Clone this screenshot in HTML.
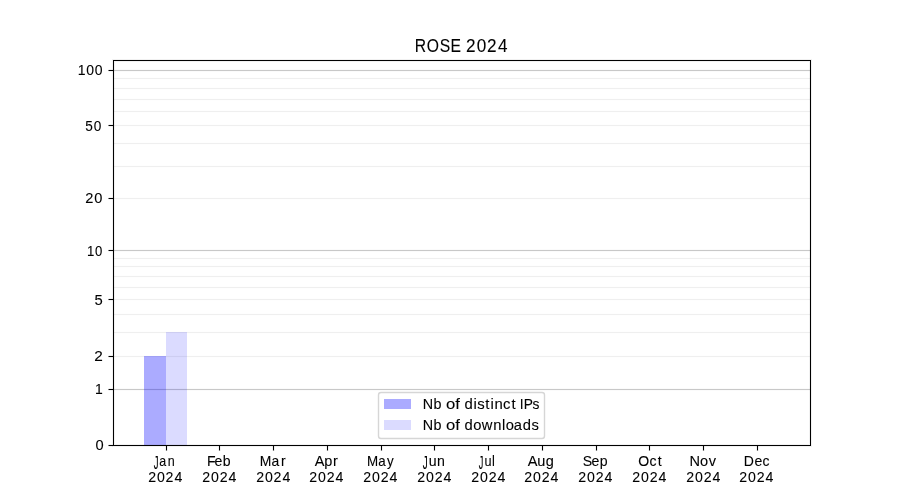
<!DOCTYPE html>
<html><head><meta charset="utf-8"><title>ROSE 2024</title>
<style>html,body{margin:0;padding:0;background:#fff;width:900px;height:500px;overflow:hidden;font-family:"Liberation Sans",sans-serif}svg{display:block}
.t{will-change:transform}</style>
</head><body>
<svg width="900" height="500" viewBox="0 0 900 500">
<rect x="0" y="0" width="900" height="500" fill="#ffffff"/>
<g shape-rendering="crispEdges">
<rect x="114" y="78" width="696" height="1" fill="#b0b0b0" fill-opacity="0.2"/>
<rect x="114" y="77" width="696" height="1" fill="#b0b0b0" fill-opacity="0.013"/>
<rect x="114" y="79" width="696" height="1" fill="#b0b0b0" fill-opacity="0.013"/>
<rect x="114" y="88" width="696" height="1" fill="#b0b0b0" fill-opacity="0.2"/>
<rect x="114" y="87" width="696" height="1" fill="#b0b0b0" fill-opacity="0.013"/>
<rect x="114" y="89" width="696" height="1" fill="#b0b0b0" fill-opacity="0.013"/>
<rect x="114" y="99" width="696" height="1" fill="#b0b0b0" fill-opacity="0.2"/>
<rect x="114" y="98" width="696" height="1" fill="#b0b0b0" fill-opacity="0.013"/>
<rect x="114" y="100" width="696" height="1" fill="#b0b0b0" fill-opacity="0.013"/>
<rect x="114" y="111" width="696" height="1" fill="#b0b0b0" fill-opacity="0.2"/>
<rect x="114" y="110" width="696" height="1" fill="#b0b0b0" fill-opacity="0.013"/>
<rect x="114" y="112" width="696" height="1" fill="#b0b0b0" fill-opacity="0.013"/>
<rect x="114" y="125" width="696" height="1" fill="#b0b0b0" fill-opacity="0.2"/>
<rect x="114" y="124" width="696" height="1" fill="#b0b0b0" fill-opacity="0.013"/>
<rect x="114" y="126" width="696" height="1" fill="#b0b0b0" fill-opacity="0.013"/>
<rect x="114" y="143" width="696" height="1" fill="#b0b0b0" fill-opacity="0.2"/>
<rect x="114" y="142" width="696" height="1" fill="#b0b0b0" fill-opacity="0.013"/>
<rect x="114" y="144" width="696" height="1" fill="#b0b0b0" fill-opacity="0.013"/>
<rect x="114" y="166" width="696" height="1" fill="#b0b0b0" fill-opacity="0.2"/>
<rect x="114" y="165" width="696" height="1" fill="#b0b0b0" fill-opacity="0.013"/>
<rect x="114" y="167" width="696" height="1" fill="#b0b0b0" fill-opacity="0.013"/>
<rect x="114" y="198" width="696" height="1" fill="#b0b0b0" fill-opacity="0.2"/>
<rect x="114" y="197" width="696" height="1" fill="#b0b0b0" fill-opacity="0.013"/>
<rect x="114" y="199" width="696" height="1" fill="#b0b0b0" fill-opacity="0.013"/>
<rect x="114" y="258" width="696" height="1" fill="#b0b0b0" fill-opacity="0.2"/>
<rect x="114" y="257" width="696" height="1" fill="#b0b0b0" fill-opacity="0.013"/>
<rect x="114" y="259" width="696" height="1" fill="#b0b0b0" fill-opacity="0.013"/>
<rect x="114" y="266" width="696" height="1" fill="#b0b0b0" fill-opacity="0.2"/>
<rect x="114" y="265" width="696" height="1" fill="#b0b0b0" fill-opacity="0.013"/>
<rect x="114" y="267" width="696" height="1" fill="#b0b0b0" fill-opacity="0.013"/>
<rect x="114" y="276" width="696" height="1" fill="#b0b0b0" fill-opacity="0.2"/>
<rect x="114" y="275" width="696" height="1" fill="#b0b0b0" fill-opacity="0.013"/>
<rect x="114" y="277" width="696" height="1" fill="#b0b0b0" fill-opacity="0.013"/>
<rect x="114" y="287" width="696" height="1" fill="#b0b0b0" fill-opacity="0.2"/>
<rect x="114" y="286" width="696" height="1" fill="#b0b0b0" fill-opacity="0.013"/>
<rect x="114" y="288" width="696" height="1" fill="#b0b0b0" fill-opacity="0.013"/>
<rect x="114" y="299" width="696" height="1" fill="#b0b0b0" fill-opacity="0.2"/>
<rect x="114" y="298" width="696" height="1" fill="#b0b0b0" fill-opacity="0.013"/>
<rect x="114" y="300" width="696" height="1" fill="#b0b0b0" fill-opacity="0.013"/>
<rect x="114" y="314" width="696" height="1" fill="#b0b0b0" fill-opacity="0.2"/>
<rect x="114" y="313" width="696" height="1" fill="#b0b0b0" fill-opacity="0.013"/>
<rect x="114" y="315" width="696" height="1" fill="#b0b0b0" fill-opacity="0.013"/>
<rect x="114" y="332" width="696" height="1" fill="#b0b0b0" fill-opacity="0.2"/>
<rect x="114" y="331" width="696" height="1" fill="#b0b0b0" fill-opacity="0.013"/>
<rect x="114" y="333" width="696" height="1" fill="#b0b0b0" fill-opacity="0.013"/>
<rect x="114" y="356" width="696" height="1" fill="#b0b0b0" fill-opacity="0.2"/>
<rect x="114" y="355" width="696" height="1" fill="#b0b0b0" fill-opacity="0.013"/>
<rect x="114" y="357" width="696" height="1" fill="#b0b0b0" fill-opacity="0.013"/>
<rect x="114" y="70" width="696" height="1" fill="#b0b0b0" fill-opacity="0.7"/>
<rect x="114" y="69" width="696" height="1" fill="#b0b0b0" fill-opacity="0.05"/>
<rect x="114" y="71" width="696" height="1" fill="#b0b0b0" fill-opacity="0.05"/>
<rect x="114" y="250" width="696" height="1" fill="#b0b0b0" fill-opacity="0.7"/>
<rect x="114" y="249" width="696" height="1" fill="#b0b0b0" fill-opacity="0.05"/>
<rect x="114" y="251" width="696" height="1" fill="#b0b0b0" fill-opacity="0.05"/>
<rect x="114" y="389" width="696" height="1" fill="#b0b0b0" fill-opacity="0.7"/>
<rect x="114" y="388" width="696" height="1" fill="#b0b0b0" fill-opacity="0.05"/>
<rect x="114" y="390" width="696" height="1" fill="#b0b0b0" fill-opacity="0.05"/>
<rect x="144" y="356" width="22" height="89" fill="#0000ff" fill-opacity="0.33"/>
<rect x="166" y="332" width="21" height="113" fill="#0000ff" fill-opacity="0.14"/>
<rect x="113" y="60" width="698" height="1" fill="#000"/>
<rect x="113" y="445" width="698" height="1" fill="#000"/>
<rect x="113" y="60" width="1" height="386" fill="#000"/>
<rect x="810" y="60" width="1" height="386" fill="#000"/>
<rect x="112" y="59" width="700" height="1" fill="#000" fill-opacity="0.055"/>
<rect x="114" y="61" width="696" height="1" fill="#000" fill-opacity="0.055"/>
<rect x="114" y="444" width="696" height="1" fill="#000" fill-opacity="0.055"/>
<rect x="112" y="446" width="700" height="1" fill="#000" fill-opacity="0.055"/>
<rect x="112" y="60" width="1" height="386" fill="#000" fill-opacity="0.055"/>
<rect x="114" y="62" width="1" height="382" fill="#000" fill-opacity="0.055"/>
<rect x="809" y="62" width="1" height="382" fill="#000" fill-opacity="0.055"/>
<rect x="811" y="60" width="1" height="386" fill="#000" fill-opacity="0.055"/>
<rect x="108" y="70" width="1" height="1" fill="#000" fill-opacity="0.5"/>
<rect x="109" y="70" width="4" height="1" fill="#000"/>
<rect x="108" y="69" width="1" height="1" fill="#000" fill-opacity="0.027"/>
<rect x="108" y="71" width="1" height="1" fill="#000" fill-opacity="0.027"/>
<rect x="109" y="69" width="4" height="1" fill="#000" fill-opacity="0.055"/>
<rect x="109" y="71" width="4" height="1" fill="#000" fill-opacity="0.055"/>
<rect x="108" y="125" width="1" height="1" fill="#000" fill-opacity="0.5"/>
<rect x="109" y="125" width="4" height="1" fill="#000"/>
<rect x="108" y="124" width="1" height="1" fill="#000" fill-opacity="0.027"/>
<rect x="108" y="126" width="1" height="1" fill="#000" fill-opacity="0.027"/>
<rect x="109" y="124" width="4" height="1" fill="#000" fill-opacity="0.055"/>
<rect x="109" y="126" width="4" height="1" fill="#000" fill-opacity="0.055"/>
<rect x="108" y="198" width="1" height="1" fill="#000" fill-opacity="0.5"/>
<rect x="109" y="198" width="4" height="1" fill="#000"/>
<rect x="108" y="197" width="1" height="1" fill="#000" fill-opacity="0.027"/>
<rect x="108" y="199" width="1" height="1" fill="#000" fill-opacity="0.027"/>
<rect x="109" y="197" width="4" height="1" fill="#000" fill-opacity="0.055"/>
<rect x="109" y="199" width="4" height="1" fill="#000" fill-opacity="0.055"/>
<rect x="108" y="250" width="1" height="1" fill="#000" fill-opacity="0.5"/>
<rect x="109" y="250" width="4" height="1" fill="#000"/>
<rect x="108" y="249" width="1" height="1" fill="#000" fill-opacity="0.027"/>
<rect x="108" y="251" width="1" height="1" fill="#000" fill-opacity="0.027"/>
<rect x="109" y="249" width="4" height="1" fill="#000" fill-opacity="0.055"/>
<rect x="109" y="251" width="4" height="1" fill="#000" fill-opacity="0.055"/>
<rect x="108" y="299" width="1" height="1" fill="#000" fill-opacity="0.5"/>
<rect x="109" y="299" width="4" height="1" fill="#000"/>
<rect x="108" y="298" width="1" height="1" fill="#000" fill-opacity="0.027"/>
<rect x="108" y="300" width="1" height="1" fill="#000" fill-opacity="0.027"/>
<rect x="109" y="298" width="4" height="1" fill="#000" fill-opacity="0.055"/>
<rect x="109" y="300" width="4" height="1" fill="#000" fill-opacity="0.055"/>
<rect x="108" y="356" width="1" height="1" fill="#000" fill-opacity="0.5"/>
<rect x="109" y="356" width="4" height="1" fill="#000"/>
<rect x="108" y="355" width="1" height="1" fill="#000" fill-opacity="0.027"/>
<rect x="108" y="357" width="1" height="1" fill="#000" fill-opacity="0.027"/>
<rect x="109" y="355" width="4" height="1" fill="#000" fill-opacity="0.055"/>
<rect x="109" y="357" width="4" height="1" fill="#000" fill-opacity="0.055"/>
<rect x="108" y="389" width="1" height="1" fill="#000" fill-opacity="0.5"/>
<rect x="109" y="389" width="4" height="1" fill="#000"/>
<rect x="108" y="388" width="1" height="1" fill="#000" fill-opacity="0.027"/>
<rect x="108" y="390" width="1" height="1" fill="#000" fill-opacity="0.027"/>
<rect x="109" y="388" width="4" height="1" fill="#000" fill-opacity="0.055"/>
<rect x="109" y="390" width="4" height="1" fill="#000" fill-opacity="0.055"/>
<rect x="108" y="445" width="1" height="1" fill="#000" fill-opacity="0.5"/>
<rect x="109" y="445" width="4" height="1" fill="#000"/>
<rect x="108" y="444" width="1" height="1" fill="#000" fill-opacity="0.027"/>
<rect x="108" y="446" width="1" height="1" fill="#000" fill-opacity="0.027"/>
<rect x="109" y="444" width="4" height="1" fill="#000" fill-opacity="0.055"/>
<rect x="109" y="446" width="4" height="1" fill="#000" fill-opacity="0.055"/>
<rect x="166" y="450" width="1" height="1" fill="#000" fill-opacity="0.5"/>
<rect x="166" y="446" width="1" height="4" fill="#000"/>
<rect x="165" y="446" width="1" height="5" fill="#000" fill-opacity="0.055"/>
<rect x="167" y="446" width="1" height="5" fill="#000" fill-opacity="0.055"/>
<rect x="219" y="450" width="1" height="1" fill="#000" fill-opacity="0.5"/>
<rect x="219" y="446" width="1" height="4" fill="#000"/>
<rect x="218" y="446" width="1" height="5" fill="#000" fill-opacity="0.055"/>
<rect x="220" y="446" width="1" height="5" fill="#000" fill-opacity="0.055"/>
<rect x="273" y="450" width="1" height="1" fill="#000" fill-opacity="0.5"/>
<rect x="273" y="446" width="1" height="4" fill="#000"/>
<rect x="272" y="446" width="1" height="5" fill="#000" fill-opacity="0.055"/>
<rect x="274" y="446" width="1" height="5" fill="#000" fill-opacity="0.055"/>
<rect x="327" y="450" width="1" height="1" fill="#000" fill-opacity="0.5"/>
<rect x="327" y="446" width="1" height="4" fill="#000"/>
<rect x="326" y="446" width="1" height="5" fill="#000" fill-opacity="0.055"/>
<rect x="328" y="446" width="1" height="5" fill="#000" fill-opacity="0.055"/>
<rect x="381" y="450" width="1" height="1" fill="#000" fill-opacity="0.5"/>
<rect x="381" y="446" width="1" height="4" fill="#000"/>
<rect x="380" y="446" width="1" height="5" fill="#000" fill-opacity="0.055"/>
<rect x="382" y="446" width="1" height="5" fill="#000" fill-opacity="0.055"/>
<rect x="434" y="450" width="1" height="1" fill="#000" fill-opacity="0.5"/>
<rect x="434" y="446" width="1" height="4" fill="#000"/>
<rect x="433" y="446" width="1" height="5" fill="#000" fill-opacity="0.055"/>
<rect x="435" y="446" width="1" height="5" fill="#000" fill-opacity="0.055"/>
<rect x="488" y="450" width="1" height="1" fill="#000" fill-opacity="0.5"/>
<rect x="488" y="446" width="1" height="4" fill="#000"/>
<rect x="487" y="446" width="1" height="5" fill="#000" fill-opacity="0.055"/>
<rect x="489" y="446" width="1" height="5" fill="#000" fill-opacity="0.055"/>
<rect x="542" y="450" width="1" height="1" fill="#000" fill-opacity="0.5"/>
<rect x="542" y="446" width="1" height="4" fill="#000"/>
<rect x="541" y="446" width="1" height="5" fill="#000" fill-opacity="0.055"/>
<rect x="543" y="446" width="1" height="5" fill="#000" fill-opacity="0.055"/>
<rect x="596" y="450" width="1" height="1" fill="#000" fill-opacity="0.5"/>
<rect x="596" y="446" width="1" height="4" fill="#000"/>
<rect x="595" y="446" width="1" height="5" fill="#000" fill-opacity="0.055"/>
<rect x="597" y="446" width="1" height="5" fill="#000" fill-opacity="0.055"/>
<rect x="649" y="450" width="1" height="1" fill="#000" fill-opacity="0.5"/>
<rect x="649" y="446" width="1" height="4" fill="#000"/>
<rect x="648" y="446" width="1" height="5" fill="#000" fill-opacity="0.055"/>
<rect x="650" y="446" width="1" height="5" fill="#000" fill-opacity="0.055"/>
<rect x="703" y="450" width="1" height="1" fill="#000" fill-opacity="0.5"/>
<rect x="703" y="446" width="1" height="4" fill="#000"/>
<rect x="702" y="446" width="1" height="5" fill="#000" fill-opacity="0.055"/>
<rect x="704" y="446" width="1" height="5" fill="#000" fill-opacity="0.055"/>
<rect x="757" y="450" width="1" height="1" fill="#000" fill-opacity="0.5"/>
<rect x="757" y="446" width="1" height="4" fill="#000"/>
<rect x="756" y="446" width="1" height="5" fill="#000" fill-opacity="0.055"/>
<rect x="758" y="446" width="1" height="5" fill="#000" fill-opacity="0.055"/>
</g>
<rect x="378.5" y="392.5" width="166" height="46" rx="2.5" ry="2.5" fill="#fff" fill-opacity="0.8" stroke="#ccc" stroke-opacity="0.8" stroke-width="1.39"/>
<g shape-rendering="crispEdges">
<rect x="384" y="399" width="27" height="10" fill="rgb(171,171,255)"/>
<rect x="384" y="420" width="27" height="10" fill="rgb(219,219,255)"/>
</g>
<g class="t" fill="#000" stroke="#000" stroke-width="0.1" stroke-linejoin="round" font-family="'Liberation Sans', sans-serif">
<text transform="translate(0 52.000) scale(0.8926 1)" x="464.79 478.07 492.71 504.66" font-size="17.6">ROSE</text>
<text transform="translate(0 52.000) scale(0.9726 1)" x="479.19 490.25 500.85 511.92" font-size="17.6">2024</text>
<text transform="translate(0 450.000) scale(1.0467 1)" x="91.17" font-size="14">0</text>
<text transform="translate(0 394.000) scale(0.9948 1)" x="95.44" font-size="14">1</text>
<text transform="translate(0 361.000) scale(1.0980 1)" x="85.81" font-size="14">2</text>
<text transform="translate(0 305.000) scale(1.0566 1)" x="89.36" font-size="14">5</text>
<text transform="translate(0 256.000) scale(0.9401 1)" x="92.47 101.18" font-size="14">10</text>
<text transform="translate(0 203.000) scale(1.0453 1)" x="81.51 90.29" font-size="14">20</text>
<text transform="translate(0 131.000) scale(0.9726 1)" x="87.78 96.51" font-size="14">50</text>
<text transform="translate(0 75.000) scale(0.9996 1)" x="77.83 86.35 94.81" font-size="14">100</text>
<text transform="translate(0 469.007) scale(0.6827 1.3)" x="225.16" font-size="14">J</text>
<text transform="translate(0 466.000) scale(0.8927 1)" x="178.41 187.78" font-size="14">an</text>
<text transform="translate(0 482.000) scale(1.0106 1)" x="146.68 155.45 163.89 172.67" font-size="14">2024</text>
<text transform="translate(0 466.000) scale(1.0048 1)" x="206.11 213.56 221.70" font-size="14">Feb</text>
<text transform="translate(0 482.000) scale(1.0106 1)" x="200.11 208.89 217.33 226.11" font-size="14">2024</text>
<text transform="translate(0 466.000) scale(0.9962 1)" x="260.85 272.62 282.17" font-size="14">Mar</text>
<text transform="translate(0 482.000) scale(1.0106 1)" x="253.55 262.32 270.76 279.54" font-size="14">2024</text>
<text transform="translate(0 466.000) scale(1.0374 1)" x="303.30 312.64 321.09" font-size="14">Apr</text>
<text transform="translate(0 482.000) scale(1.0106 1)" x="305.99 314.77 323.21 331.99" font-size="14">2024</text>
<text transform="translate(0 466.000) scale(0.9554 1)" x="384.04 395.81 405.16" font-size="14">May</text>
<text transform="translate(0 482.000) scale(1.0106 1)" x="359.43 368.20 376.64 385.42" font-size="14">2024</text>
<text transform="translate(0 469.007) scale(0.7086 1.3)" x="596.55" font-size="14">J</text>
<text transform="translate(0 466.000) scale(1.0103 1)" x="424.32 432.61" font-size="14">un</text>
<text transform="translate(0 482.000) scale(1.0106 1)" x="412.86 421.64 430.08 438.86" font-size="14">2024</text>
<text transform="translate(0 469.007) scale(0.6530 1.3)" x="733.07" font-size="14">J</text>
<text transform="translate(0 466.000) scale(0.9069 1)" x="534.12 542.57" font-size="14">ul</text>
<text transform="translate(0 482.000) scale(1.0106 1)" x="466.30 475.07 483.51 492.29" font-size="14">2024</text>
<text transform="translate(0 466.000) scale(1.0384 1)" x="508.16 517.45 525.65" font-size="14">Aug</text>
<text transform="translate(0 482.000) scale(1.0106 1)" x="518.74 527.52 535.96 544.74" font-size="14">2024</text>
<text transform="translate(0 466.000) scale(1.0071 1)" x="578.54 587.37 595.51" font-size="14">Sep</text>
<text transform="translate(0 482.000) scale(1.0106 1)" x="572.18 580.95 589.39 598.17" font-size="14">2024</text>
<text transform="translate(0 466.000) scale(1.0043 1)" x="635.55 646.66 654.91" font-size="14">Oct</text>
<text transform="translate(0 482.000) scale(1.0106 1)" x="625.61 634.39 642.82 651.61" font-size="14">2024</text>
<text transform="translate(0 466.000) scale(1.0399 1)" x="663.05 673.18 681.50" font-size="14">Nov</text>
<text transform="translate(0 482.000) scale(1.0106 1)" x="679.05 687.82 696.26 705.04" font-size="14">2024</text>
<text transform="translate(0 466.000) scale(1.0003 1)" x="743.64 754.16 762.24" font-size="14">Dec</text>
<text transform="translate(0 482.000) scale(1.0106 1)" x="731.49 740.27 748.70 757.49" font-size="14">2024</text>
<text transform="translate(0 409.000) scale(1.0254 1)" x="412.18 422.75" font-size="14">Nb</text>
<text transform="translate(0 409.000) scale(1.1904 1)" x="374.59 382.35" font-size="14">of</text>
<text transform="translate(0 409.000) scale(1.0636 1)" x="436.71 445.20 448.68 456.20 461.08 464.85 472.95 480.91" font-size="14">distinct</text>
<text transform="translate(0 409.000) scale(0.9843 1)" x="528.11 532.20 541.12" font-size="14">IPs</text>
<text transform="translate(0 430.000) scale(1.0254 1)" x="412.18 422.75" font-size="14">Nb</text>
<text transform="translate(0 430.000) scale(1.1904 1)" x="374.59 382.35" font-size="14">of</text>
<text transform="translate(0 430.000) scale(1.0538 1)" x="440.74 449.04 457.28 468.06 476.37 479.92 487.48 496.14 504.32" font-size="14">downloads</text>
</g>
</svg>
</body></html>
